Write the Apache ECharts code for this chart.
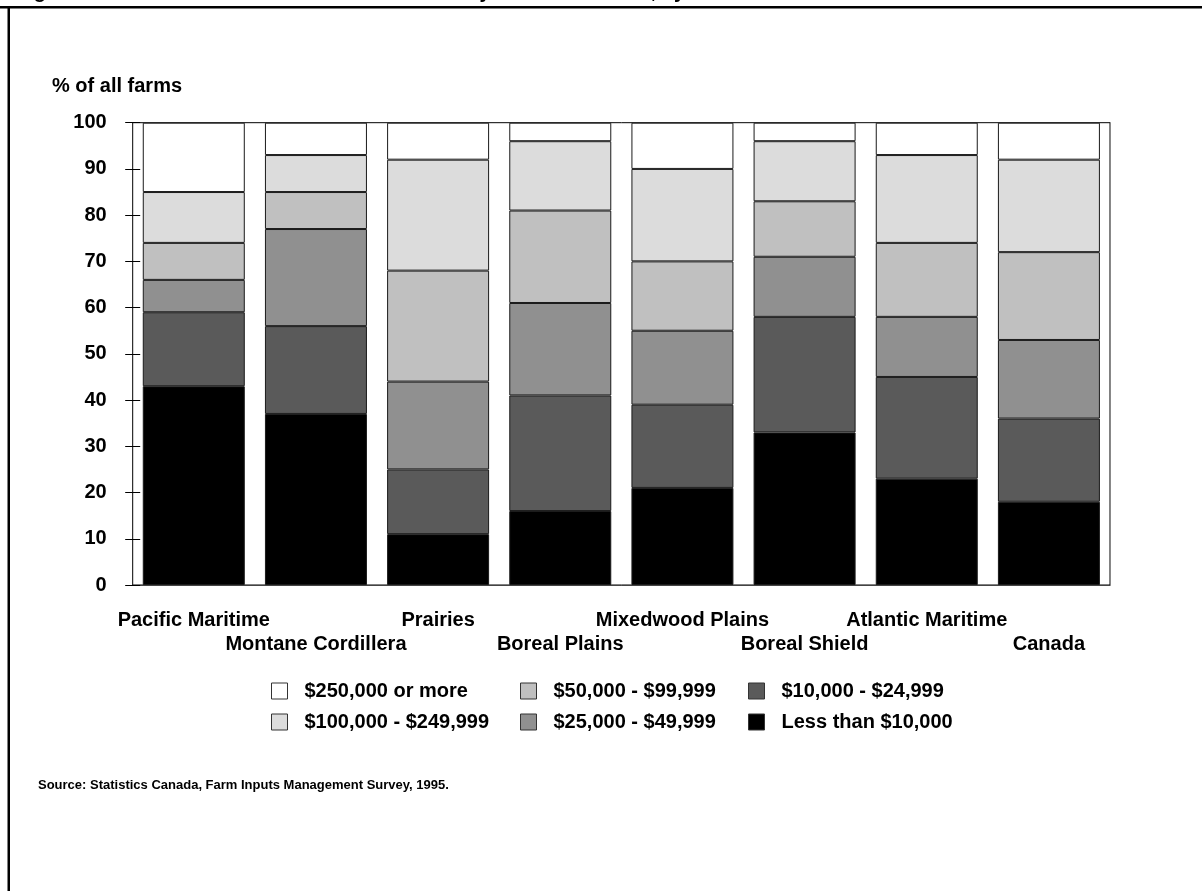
<!DOCTYPE html>
<html>
<head>
<meta charset="utf-8">
<script src="https://cdn.jsdelivr.net/npm/echarts@6/dist/echarts.min.js"></script>
<style>
html,body{margin:0;padding:0;background:#fff;}
#chart{width:1202px;height:891px;}
</style>
</head>
<body>
<div id="chart"></div>
<script>
// ---- data ----
var categories = ['Pacific Maritime','Montane Cordillera','Prairies','Boreal Plains','Mixedwood Plains','Boreal Shield','Atlantic Maritime','Canada'];
var seriesNames = ['Less than $10,000','$10,000 - $24,999','$25,000 - $49,999','$50,000 - $99,999','$100,000 - $249,999','$250,000 or more'];
var lessThan10k   = [43, 37, 11, 16, 21, 33, 23, 18];
var from10to25k   = [16, 19, 14, 25, 18, 25, 22, 18];
var from25to50k   = [ 7, 21, 19, 20, 16, 13, 13, 17];
var from50to100k  = [ 8,  8, 24, 20, 15, 12, 16, 19];
var from100to250k = [11,  8, 24, 15, 20, 13, 19, 20];
var over250k      = [15,  7,  8,  4, 10,  4,  7,  8];
var yTicks = [0,10,20,30,40,50,60,70,80,90,100];

var seriesValues = [lessThan10k, from10to25k, from25to50k, from50to100k, from100to250k, over250k];
var colors = ['#000000','#5a5a5a','#909090','#c0c0c0','#dcdcdc','#ffffff'];

var chart = echarts.init(document.getElementById('chart'), null, {renderer:'canvas'});
var FONT = 'Liberation Sans, Arial, sans-serif';
var GRID_LEFT = 132.7, GRID_RIGHT = 92;

var series = seriesNames.map(function(name, i){
  return {
    name: name,
    type: 'bar',
    stack: 'total',
    xAxisIndex: 0,
    yAxisIndex: 0,
    data: seriesValues[i],
    barCategoryGap: '16.5%',
    itemStyle: {color: colors[i], borderColor: '#1a1a1a', borderWidth: 1},
    emphasis: {disabled: true},
    silent: true
  };
});

function legendCol(left, items){
  return {
    orient: 'vertical',
    left: left,
    top: 681,
    padding: 0,
    itemWidth: 16,
    itemHeight: 16,
    itemGap: 11,
    icon: 'rect',
    selectedMode: false,
    data: items,
    itemStyle: {borderColor: '#333', borderWidth: 1},
    textStyle: {fontFamily: FONT, fontWeight: 'bold', fontSize: 20, color: '#000', padding: [0,0,0,12]}
  };
}

var option = {
  backgroundColor: '#ffffff',
  animation: false,
  title: {
    text: '% of all farms',
    left: 47,
    top: 71,
    textStyle: {fontFamily: FONT, fontWeight: 'bold', fontSize: 20, color: '#000'}
  },
  grid: {left: GRID_LEFT, right: GRID_RIGHT, top: 122.7, bottom: 306, show: true, borderColor: '#000', borderWidth: 1, containLabel: false},
  legend: [
    legendCol(271, ['$250,000 or more','$100,000 - $249,999']),
    legendCol(520, ['$50,000 - $99,999','$25,000 - $49,999']),
    legendCol(748, ['$10,000 - $24,999','Less than $10,000'])
  ],
  xAxis: [
    {
      type: 'category',
      data: categories,
      position: 'bottom',
      axisLine: {show: true, lineStyle: {color: '#444', width: 1}},
      axisTick: {show: false},
      axisLabel: {
        interval: 0,
        margin: 23,
        fontFamily: FONT, fontWeight: 'bold', fontSize: 20, color: '#000', lineHeight: 24,
        formatter: function(v, idx){ return idx % 2 === 1 ? '\n' + v : v; }
      }
    }
  ],
  yAxis: [
    {
      type: 'value',
      min: 0, max: 100, interval: 10,
      position: 'left',
      offset: -7.5,
      axisLine: {show: false},
      axisTick: {show: true, length: 15, lineStyle: {color: '#000'}},
      splitLine: {show: false},
      axisLabel: {margin: 33.5, fontFamily: FONT, fontWeight: 'bold', fontSize: 20, color: '#000',
        formatter: function(v){ return yTicks.indexOf(v) >= 0 ? String(v) : ''; }}
    },
    {
      type: 'value',
      min: 0, max: 100, interval: 10,
      position: 'right',
      axisLine: {show: true, lineStyle: {color: '#888', width: 1}},
      axisTick: {show: false},
      splitLine: {show: false},
      axisLabel: {show: false}
    }
  ],
  series: series,
  graphic: [
    {type: 'rect', left: 0, top: 6, shape: {width: 1202, height: 2.5}, style: {fill: '#000'}, silent: true},
    {type: 'rect', left: 7.5, top: 6, shape: {width: 2.5, height: 885}, style: {fill: '#000'}, silent: true},
    {type: 'text', left: 16, top: -18, silent: true,
      style: {text: 'Figure 3. Distribution of farms in each ecozone by revenue classes, by ecozone', font: 'bold 20px Liberation Sans, Arial, sans-serif', fill: '#000'}},
    {type: 'text', left: 38, top: 779, silent: true,
      style: {text: 'Source: Statistics Canada, Farm Inputs Management Survey, 1995.', font: 'bold 13px Liberation Sans, Arial, sans-serif', fill: '#000'}}
  ]
};
chart.setOption(option);
</script>
</body>
</html>
